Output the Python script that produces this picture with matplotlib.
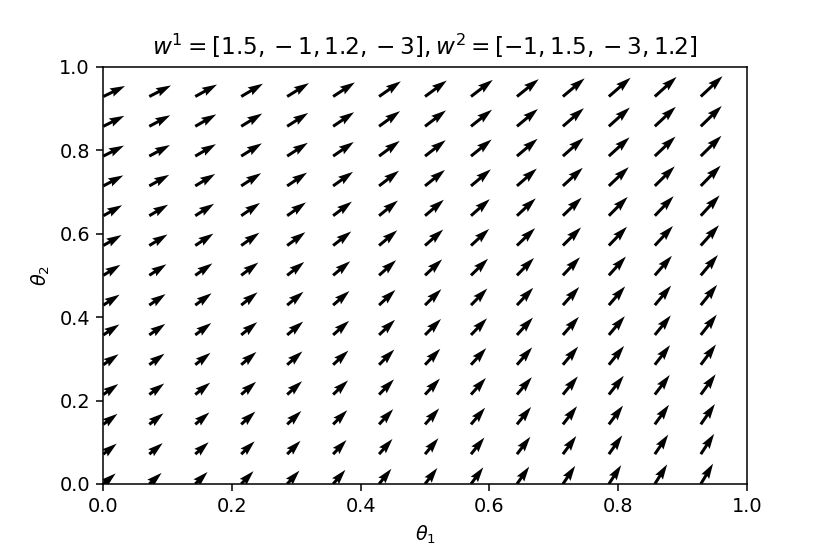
import numpy as np
import matplotlib
matplotlib.use('Agg')
import matplotlib.pyplot as plt

# grid of strategy values (14 x 14)
theta1 = np.arange(14) / 14
theta2 = np.arange(14) / 14

# horizontal component per row (bottom -> top)
u_rows = [11.3, 12.3, 13.0, 13.7, 14.0, 14.7, 15.0, 15.7, 16.7, 17.3, 18.3, 19.0, 19.3, 20.0]
# vertical component per column (left -> right)
v_cols = [9.7, 10.2, 11.0, 11.8, 12.3, 13.0, 14.0, 14.7, 15.3, 16.0, 16.7, 17.3, 18.0, 18.7]

DPI = 138.4
fig = plt.figure(figsize=(830 / DPI, 554 / DPI), dpi=DPI)
ax = fig.add_axes([0.1245, 0.1264, 0.7752, 0.7532])

X, Y = np.meshgrid(theta1, theta2)
U = np.tile(np.array(u_rows)[:, None], (1, len(theta1)))
V = np.tile(np.array(v_cols)[None, :], (len(theta2), 1))

ax.quiver(X, Y, U, V, angles='uv', scale_units='dots', scale=0.92, width=0.0047)

ax.set_xlim(0, 1)
ax.set_ylim(0, 1)
ax.set_xlabel(r'$\theta_1$')
ax.set_ylabel(r'$\theta_2$')
ax.set_title(r'$w^1=[1.5,-1,1.2,-3], w^2=[-1,1.5,-3,1.2]$')

fig.savefig('out.png', dpi=DPI)
